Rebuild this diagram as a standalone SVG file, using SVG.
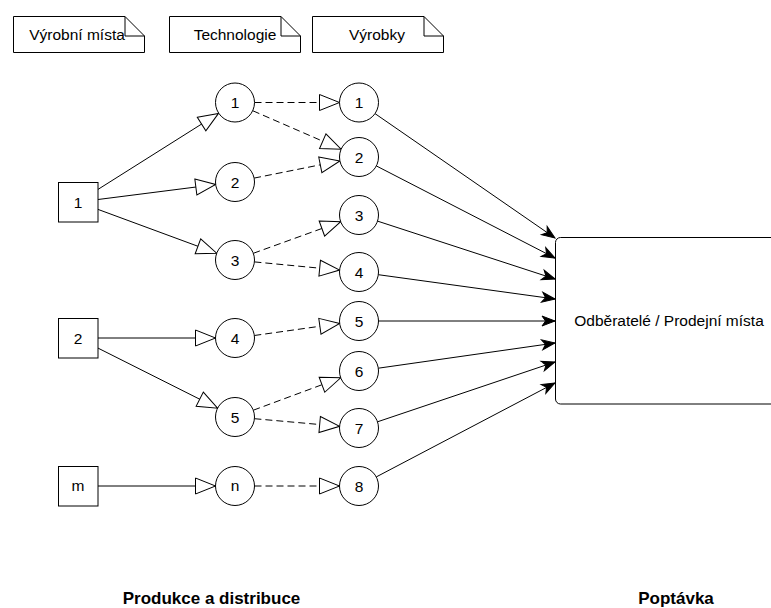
<svg xmlns="http://www.w3.org/2000/svg" width="771" height="608" viewBox="0 0 771 608">
  <style>
    .shape { fill: #ffffff; stroke: #000000; stroke-width: 1; }
    .lbl { font-family: "Liberation Sans", Arial, sans-serif; font-size: 15.5px; fill: #000000; text-anchor: middle; }
    .title { font-family: "Liberation Sans", Arial, sans-serif; font-size: 17px; font-weight: bold; fill: #000000; text-anchor: middle; }
    .edge { fill: none; stroke: #000000; stroke-width: 1; }
    .open { marker-end: url(#openTri); }
    .dash { stroke-dasharray: 7 4; }
    .filled { marker-end: url(#classic); }
  </style>
  <defs>
    <marker id="openTri" markerUnits="userSpaceOnUse" markerWidth="24" markerHeight="20" refX="21" refY="9" orient="auto" overflow="visible">
      <path d="M1,1 L21,9 L1,17 Z" fill="#ffffff" stroke="#000000" stroke-width="1" stroke-dasharray="none"/>
    </marker>
    <marker id="classic" markerUnits="userSpaceOnUse" markerWidth="16" markerHeight="12" refX="13" refY="5" orient="auto" overflow="visible">
      <path d="M13,5 L0,0 L3.5,5 L0,10 Z" fill="#000000" stroke="#000000" stroke-width="1" stroke-linejoin="miter"/>
    </marker>
  </defs>

  <rect width="771" height="608" fill="#ffffff"/>

  <!-- legend notes -->
  <g id="note-vyrobni-mista">
    <path class="shape" d="M13.5,16.5 H125 L144.5,36 V52.5 H13.5 Z"/>
    <path class="edge" d="M125,16.5 V36 H144.5"/>
    <text class="lbl" x="77" y="40">Výrobní místa</text>
  </g>
  <g id="note-technologie">
    <path class="shape" d="M169.5,16.5 H281 L300.5,36 V52.5 H169.5 Z"/>
    <path class="edge" d="M281,16.5 V36 H300.5"/>
    <text class="lbl" x="235" y="40">Technologie</text>
  </g>
  <g id="note-vyrobky">
    <path class="shape" d="M312.5,16.5 H424 L443.5,36 V52.5 H312.5 Z"/>
    <path class="edge" d="M424,16.5 V36 H443.5"/>
    <text class="lbl" x="377" y="40">Výrobky</text>
  </g>

  <!-- connectors -->
  <g id="connectors">
    <!-- production sites to technologies -->
    <path class="edge open" d="M98,189.4 L218.5,113.4"/>
    <path class="edge open" d="M98,199.5 L215.7,184.5"/>
    <path class="edge open" d="M98,209.4 L216.7,253.2"/>
    <path class="edge open" d="M98,338 L215.5,338"/>
    <path class="edge open" d="M98,348.1 L217.6,408.2"/>
    <path class="edge open" d="M98,486 L215.5,486"/>
    <!-- technologies to products -->
    <path class="edge open dash" d="M254.5,102.5 L339.5,102.5"/>
    <path class="edge open dash" d="M252.9,110.8 L341.1,149.2"/>
    <path class="edge open dash" d="M254.1,178.1 L339.9,160.9"/>
    <path class="edge open dash" d="M253.3,253.3 L340.7,221.7"/>
    <path class="edge open dash" d="M254.4,261.9 L339.6,270.1"/>
    <path class="edge open dash" d="M254.3,335.5 L339.7,323.5"/>
    <path class="edge open dash" d="M253.3,410.2 L340.7,377.8"/>
    <path class="edge open dash" d="M254.4,418.7 L339.6,426.3"/>
    <path class="edge open dash" d="M254.5,486 L339.5,486"/>
    <!-- products to customers -->
    <path class="edge filled" d="M375.0,113.6 L555,238"/>
    <path class="edge filled" d="M376.3,165.9 L555,258"/>
    <path class="edge filled" d="M377.5,221.1 L555,279"/>
    <path class="edge filled" d="M378.3,274.7 L555,299"/>
    <path class="edge filled" d="M378.5,321 L555,321"/>
    <path class="edge filled" d="M378.3,368.2 L555,343"/>
    <path class="edge filled" d="M377.5,421.8 L555,362"/>
    <path class="edge filled" d="M376.3,476.9 L555,383"/>
  </g>

  <!-- production sites -->
  <g id="site-1">
    <rect class="shape" x="58.5" y="182.5" width="39.5" height="39.5"/>
    <text class="lbl" x="78" y="207.5">1</text>
  </g>
  <g id="site-2">
    <rect class="shape" x="58.5" y="318.5" width="39.5" height="39.5"/>
    <text class="lbl" x="78" y="343.5">2</text>
  </g>
  <g id="site-m">
    <rect class="shape" x="58.5" y="466.5" width="39.5" height="39.5"/>
    <text class="lbl" x="78" y="491">m</text>
  </g>

  <!-- technologies -->
  <g id="tech-1">
    <circle class="shape" cx="235" cy="102.5" r="19.5"/>
    <text class="lbl" x="235" y="108">1</text>
  </g>
  <g id="tech-2">
    <circle class="shape" cx="235" cy="182" r="19.5"/>
    <text class="lbl" x="235" y="187.5">2</text>
  </g>
  <g id="tech-3">
    <circle class="shape" cx="235" cy="260" r="19.5"/>
    <text class="lbl" x="235" y="265.5">3</text>
  </g>
  <g id="tech-4">
    <circle class="shape" cx="235" cy="338" r="19.5"/>
    <text class="lbl" x="235" y="343.5">4</text>
  </g>
  <g id="tech-5">
    <circle class="shape" cx="235" cy="417" r="19.5"/>
    <text class="lbl" x="235" y="422.5">5</text>
  </g>
  <g id="tech-n">
    <circle class="shape" cx="235" cy="486" r="19.5"/>
    <text class="lbl" x="235" y="491">n</text>
  </g>

  <!-- products -->
  <g id="product-1">
    <circle class="shape" cx="359" cy="102.5" r="19.5"/>
    <text class="lbl" x="359" y="108">1</text>
  </g>
  <g id="product-2">
    <circle class="shape" cx="359" cy="157" r="19.5"/>
    <text class="lbl" x="359" y="162.5">2</text>
  </g>
  <g id="product-3">
    <circle class="shape" cx="359" cy="215" r="19.5"/>
    <text class="lbl" x="359" y="220.5">3</text>
  </g>
  <g id="product-4">
    <circle class="shape" cx="359" cy="272" r="19.5"/>
    <text class="lbl" x="359" y="277.5">4</text>
  </g>
  <g id="product-5">
    <circle class="shape" cx="359" cy="321" r="19.5"/>
    <text class="lbl" x="359" y="326.5">5</text>
  </g>
  <g id="product-6">
    <circle class="shape" cx="359" cy="371" r="19.5"/>
    <text class="lbl" x="359" y="376.5">6</text>
  </g>
  <g id="product-7">
    <circle class="shape" cx="359" cy="428" r="19.5"/>
    <text class="lbl" x="359" y="433.5">7</text>
  </g>
  <g id="product-8">
    <circle class="shape" cx="359" cy="486" r="19.5"/>
    <text class="lbl" x="359" y="491.5">8</text>
  </g>

  <!-- customers / points of sale -->
  <g id="customers">
    <rect class="shape" x="555.5" y="237.5" width="228" height="166.5" rx="5" ry="5"/>
    <text class="lbl" x="669" y="326">Odběratelé / Prodejní místa</text>
  </g>

  <!-- section captions -->
  <g id="caption-production">
    <text class="title" x="211.5" y="604">Produkce a distribuce</text>
  </g>
  <g id="caption-demand">
    <text class="title" x="676" y="604">Poptávka</text>
  </g>
</svg>
